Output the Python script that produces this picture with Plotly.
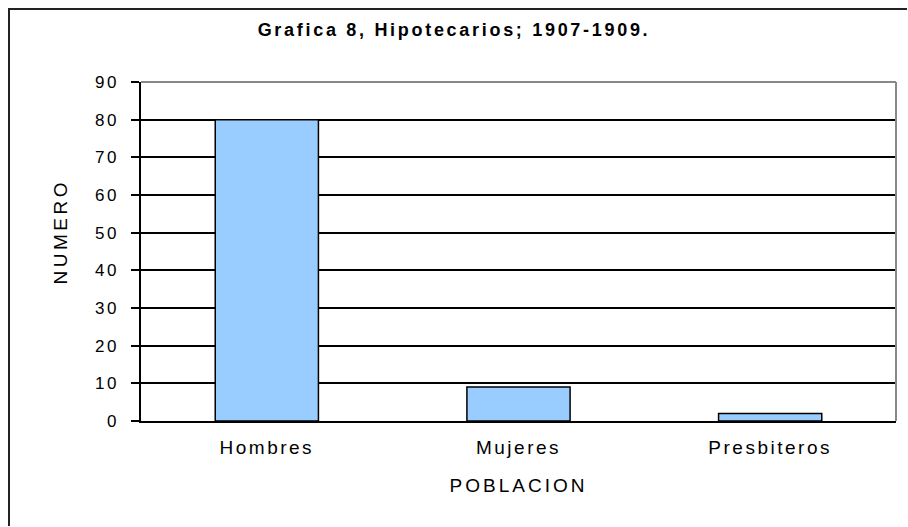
import plotly.graph_objects as go

categories = ["Hombres", "Mujeres", "Presbiteros"]
values = [80, 9, 2]
y_ticks = [0, 10, 20, 30, 40, 50, 60, 70, 80, 90]

L, R, T, B = 141, 12, 82, 106
W, H = 908, 527
pw, ph = W - L - R, H - T - B

def px_x(p):
    return (p - L) / pw

def px_y(p):
    return (H - B - p) / ph

fig = go.Figure(go.Bar(
    x=categories, y=values,
    marker=dict(color="#99CCFF", line=dict(color="black", width=1.5)),
))

font = "Liberation Sans, Arial, sans-serif"
fig.update_layout(
    width=W, height=H,
    margin=dict(l=L, r=R, t=T, b=B, autoexpand=False),
    paper_bgcolor="white", plot_bgcolor="white",
    bargap=0.59, showlegend=False,
    font=dict(family=font, size=19, color="black"),
    title=dict(text="<b>Grafica 8, Hipotecarios; 1907-1909.</b>",
               x=0.5, xanchor="center", y=1 - 30 / H, yanchor="middle",
               font=dict(size=18, family=font)),
    xaxis=dict(showline=True, linecolor="black", linewidth=1.5,
               ticks="", showgrid=False, ticklabelstandoff=8,
               title=dict(text="POBLACION", standoff=22, font=dict(size=19)),
               tickfont=dict(size=19)),
    yaxis=dict(range=[0, 90], tickvals=y_ticks, showline=True,
               linecolor="black", linewidth=1.5, ticks="outside",
               ticklen=8, tickwidth=1.5, tickcolor="black",
               showgrid=True, gridcolor="black", gridwidth=1.5,
               zeroline=False, tickfont=dict(size=17), ticklabelstandoff=9),
    annotations=[
        dict(text="NUMERO", textangle=-90, xref="paper", yref="paper",
             x=px_x(60), y=px_y(232), xanchor="center", yanchor="middle",
             showarrow=False, font=dict(size=19, family=font)),
    ],
    shapes=[
        dict(type="line", xref="paper", yref="paper",
             x0=px_x(8), x1=px_x(300), y0=px_y(9), y1=px_y(9),
             line=dict(color="#222222", width=2), layer="above"),
        dict(type="line", xref="paper", yref="paper",
             x0=px_x(300), x1=px_x(600), y0=px_y(9), y1=px_y(9),
             line=dict(color="#222222", width=2), layer="above"),
        dict(type="line", xref="paper", yref="paper",
             x0=px_x(600), x1=px_x(907), y0=px_y(9), y1=px_y(9),
             line=dict(color="#222222", width=2), layer="above"),
        dict(type="line", xref="paper", yref="paper",
             x0=px_x(9), x1=px_x(9), y0=px_y(8), y1=px_y(526),
             line=dict(color="#222222", width=2), layer="above"),
        dict(type="line", xref="paper", yref="paper", x0=0, x1=1, y0=1, y1=1,
             line=dict(color="#888888", width=2), layer="above"),
        dict(type="line", xref="paper", yref="paper", x0=1, x1=1, y0=0, y1=1,
             line=dict(color="#888888", width=2), layer="above"),
    ],
)

post = """
document.body.style.margin = '0';
function sp(sel, v) {
  document.querySelectorAll(sel).forEach(function (t) { t.style.letterSpacing = v; });
}
sp('.gtitle', '2.7px');
sp('.xtick text', '2.5px');
sp('.ytick text', '2.5px');
sp('.xtitle', '3px');
sp('.annotation-text', '3.5px');
"""

fig.write_html("out.html", post_script=post, config={"displayModeBar": False})
